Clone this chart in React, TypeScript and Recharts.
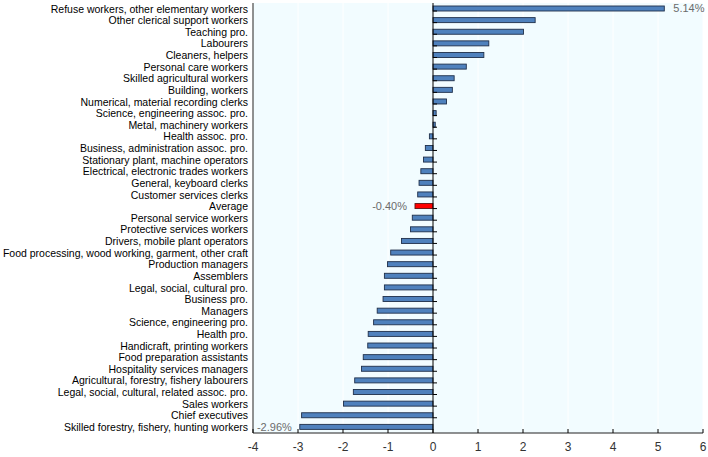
import React from 'react';
import { BarChart, Bar, XAxis, YAxis, CartesianGrid, ReferenceLine, LabelList } from 'recharts';

const categories = [
  'Refuse workers, other elementary workers',
  'Other clerical support workers',
  'Teaching pro.',
  'Labourers',
  'Cleaners, helpers',
  'Personal care workers',
  'Skilled agricultural workers',
  'Building, workers',
  'Numerical, material recording clerks',
  'Science, engineering assoc. pro.',
  'Metal, machinery workers',
  'Health assoc. pro.',
  'Business, administration assoc. pro.',
  'Stationary plant, machine operators',
  'Electrical, electronic trades workers',
  'General, keyboard clerks',
  'Customer services clerks',
  'Average',
  'Personal service workers',
  'Protective services workers',
  'Drivers, mobile plant operators',
  'Food processing, wood working, garment, other craft',
  'Production managers',
  'Assemblers',
  'Legal, social, cultural pro.',
  'Business pro.',
  'Managers',
  'Science, engineering pro.',
  'Health pro.',
  'Handicraft, printing workers',
  'Food preparation assistants',
  'Hospitality services managers',
  'Agricultural, forestry, fishery labourers',
  'Legal, social, cultural, related assoc. pro.',
  'Sales workers',
  'Chief executives',
  'Skilled forestry, fishery, hunting workers',
];

const values = [
  5.14, 2.27, 2.01, 1.24, 1.13, 0.74, 0.47, 0.43, 0.3, 0.07, 0.05,
  -0.08, -0.17, -0.21, -0.27, -0.31, -0.34, -0.4, -0.46, -0.5, -0.7,
  -0.94, -1.01, -1.08, -1.08, -1.11, -1.24, -1.32, -1.44, -1.45, -1.55,
  -1.59, -1.74, -1.77, -1.99, -2.92, -2.96,
];

const xTicks = [-4, -3, -2, -1, 0, 1, 2, 3, 4, 5, 6];
const highlightCategory = 'Average';
const labelledCategories = [
  'Refuse workers, other elementary workers',
  'Average',
  'Skilled forestry, fishery, hunting workers',
];

const data = categories.map((name, i) => ({ name, value: values[i] }));

const BarShape = (props: any) => {
  const { x, y, width, height, payload, index, background } = props;
  const isHi = payload && payload.name === highlightCategory;
  const left = Math.min(x, x + width);
  const w = Math.abs(width);
  let zero: number;
  if (width < 0) zero = x;
  else zero = payload && payload.value < 0 ? x + width : x;
  const showTick = background && index < categories.length - 1;
  const by = showTick ? background.y + background.height : 0;
  return (
    <g>
      <rect
        x={left}
        y={y}
        width={w}
        height={height}
        fill={isHi ? '#ff0000' : '#4f81bd'}
        stroke={isHi ? '#5a1010' : '#1f2f4a'}
        strokeWidth={0.9}
      />
      {showTick && <line x1={zero} x2={zero + 4} y1={by} y2={by} stroke="#000" strokeWidth={1} />}
    </g>
  );
};

const renderValueLabel = (props: any) => {
  const { x, y, width, height, value, index } = props;
  if (!labelledCategories.includes(categories[index])) return null;
  const left = Math.min(x, x + width);
  const right = Math.max(x, x + width);
  const cy = y + height / 2;
  const pos = value >= 0;
  return (
    <text
      x={pos ? right + 9 : left - 8}
      y={cy}
      dy="0.36em"
      textAnchor={pos ? 'start' : 'end'}
      fontSize={11}
      fill="#6b6b6b"
    >
      {Number(value).toFixed(2) + '%'}
    </text>
  );
};

const XTick = (props: any) => {
  const { x, y, payload } = props;
  return (
    <g>
      <line x1={x} x2={x} y1={y} y2={y - 4} stroke="#000" strokeWidth={1} />
      <text x={x} y={y + 17} dy="0.1em" textAnchor="middle" fontSize={12} fill="#333">
        {payload.value}
      </text>
    </g>
  );
};

const YTick = (props: any) => {
  const { x, y, payload } = props;
  return (
    <text x={x} y={y} dy="0.36em" textAnchor="end" fontSize={10.5} fill="#000">
      {payload.value}
    </text>
  );
};

export default function App() {
  return (
    <div style={{ position: 'absolute', left: 0, top: 0, fontFamily: '"Liberation Sans", Arial, sans-serif' }}>
      <BarChart
        width={708}
        height={457}
        data={data}
        layout="vertical"
        margin={{ top: 3, right: 5, bottom: 0, left: 0 }}
      >
        <CartesianGrid horizontal={false} vertical={true} stroke="#ffffff" fill="#f2fcff" />
        <XAxis
          type="number"
          domain={[-4, 6]}
          ticks={xTicks}
          allowDataOverflow
          height={24}
          axisLine={{ stroke: '#222' }}
          tickLine={false}
          tickSize={0}
          tickMargin={0}
          tick={<XTick />}
        />
        <XAxis
          xAxisId="top"
          orientation="top"
          type="number"
          domain={[-4, 6]}
          height={0}
          axisLine={{ stroke: '#222' }}
          tickLine={false}
          tick={false}
        />
        <YAxis
          type="category"
          dataKey="name"
          width={253}
          axisLine={{ stroke: '#222' }}
          tickLine={false}
          tickSize={3}
          tickMargin={2}
          interval={0}
          tick={<YTick />}
        />
        <YAxis
          yAxisId="right"
          orientation="right"
          type="category"
          dataKey="name"
          width={0}
          axisLine={{ stroke: '#222' }}
          tickLine={false}
          tick={false}
        />
        <ReferenceLine x={0} stroke="#000" strokeWidth={1} />
        <Bar dataKey="value" barSize={5} isAnimationActive={false} shape={<BarShape />}>
          <LabelList dataKey="value" content={renderValueLabel} />
        </Bar>
      </BarChart>
    </div>
  );
}
